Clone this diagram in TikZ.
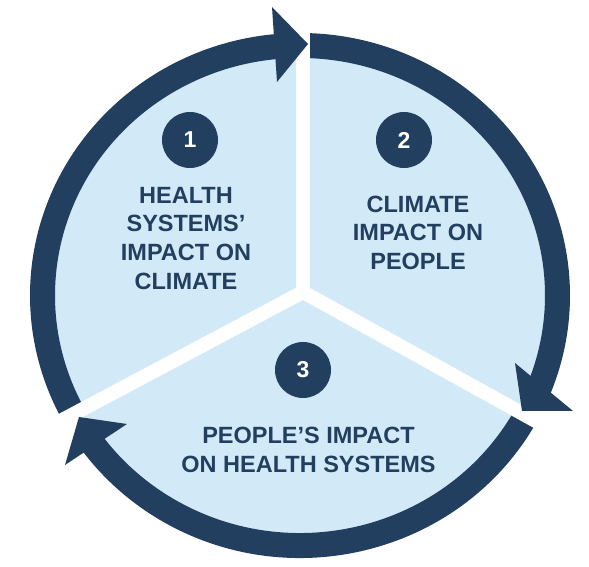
\documentclass[tikz,border=0pt]{standalone}
\usepackage{fontspec}
\setmainfont{Liberation Sans}
\definecolor{navy}{HTML}{233F5F}
\definecolor{paleblue}{HTML}{D2E9F7}
\begin{document}
\begin{tikzpicture}[x=1pt,y=1pt,
  ring/.style={draw=navy, line width=25pt},
  gapline/.style={draw=white, line width=14pt, line cap=round},
  arrowtip/.style={fill=navy},
  numdisc/.style={circle, fill=navy, minimum size=56pt, inner sep=0pt, text=white, font=\fontsize{23}{28}\selectfont\bfseries},
  blocklabel/.style={text=navy, align=center, inner sep=0pt, anchor=north, font=\fontsize{23.5}{28.6}\selectfont\bfseries}]
\useasboundingbox (0,0) rectangle (589,567);
\coordinate (C) at (300,271.5);
\coordinate (J) at (303,275);
% pale disk
\fill[paleblue] (C) ellipse [x radius=257.5, y radius=250];
% ring segments
\draw[ring] (C) ++(208:257.5 and 250) arc[start angle=208, end angle=93, x radius=257.5, y radius=250];
\draw[ring] (C) ++(90:257.5 and 250) arc[start angle=90, end angle=-24, x radius=257.5, y radius=250];
\draw[ring] (C) ++(331:257.5 and 250) arc[start angle=331, end angle=214, x radius=257.5, y radius=250];
% white separators
\draw[gapline] (J) -- ++(90:300);
\draw[gapline] (J) -- ++(208:300);
\draw[gapline] (J) -- ++(331:300);
% arrowheads
\fill[arrowtip] (272,560) -- (308,523) -- (277,485) -- cycle;
\fill[arrowtip] (515,204) -- (573,156) -- (522,156) -- cycle;
\fill[arrowtip] (127,143) -- (79,150) -- (65,102) -- cycle;
% numbers
\node[numdisc] (n1) at (190,427) {1};
\node[numdisc] (n2) at (404,427) {2};
\node[numdisc] (n3) at (303,197) {3};
% labels
\node[blocklabel] (t1) at (186,380) {HEALTH\\SYSTEMS’\\IMPACT ON\\CLIMATE};
\node[blocklabel] (t2) at (418,371.5) {CLIMATE\\IMPACT ON\\PEOPLE};
\node[blocklabel] (t3) at (308.5,140) {PEOPLE’S IMPACT\\ON HEALTH SYSTEMS};
\end{tikzpicture}
\end{document}
